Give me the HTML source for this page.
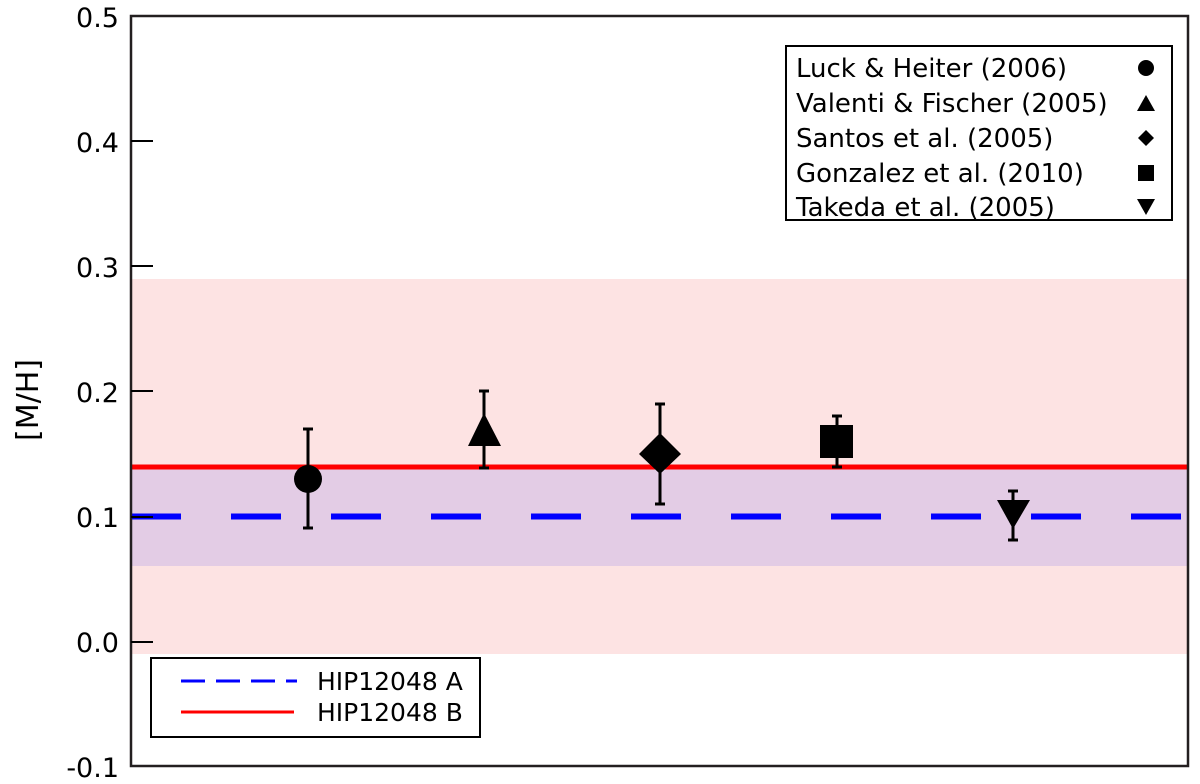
<!DOCTYPE html>
<html><head><meta charset="utf-8"><style>body{margin:0;background:#fff}svg{display:block}text{font-family:"DejaVu Sans","Liberation Sans",sans-serif;fill:#000}</style></head>
<body>
<svg width="1200" height="784" viewBox="0 0 1200 784">
<rect x="131" y="279" width="1057" height="375" fill="#fde3e3"/>
<rect x="131" y="469" width="1057" height="97" fill="#e3cce5"/>
<line x1="131" y1="467" x2="1188" y2="467" stroke="#f00" stroke-width="5"/>
<line x1="131" y1="516.5" x2="1188" y2="516.5" stroke="#00f" stroke-width="6" stroke-dasharray="50 50"/>
<g stroke="#000" stroke-width="3">
<line x1="308" y1="429" x2="308" y2="528"/><line x1="303" y1="429" x2="313" y2="429"/><line x1="303" y1="528" x2="313" y2="528"/>
<line x1="484" y1="391" x2="484" y2="468"/><line x1="479" y1="391" x2="489" y2="391"/><line x1="479" y1="468" x2="489" y2="468"/>
<line x1="660" y1="404" x2="660" y2="504"/><line x1="655" y1="404" x2="665" y2="404"/><line x1="655" y1="504" x2="665" y2="504"/>
<line x1="837" y1="416" x2="837" y2="467"/><line x1="832" y1="416" x2="842" y2="416"/><line x1="832" y1="467" x2="842" y2="467"/>
<line x1="1013" y1="491" x2="1013" y2="540"/><line x1="1008" y1="491" x2="1018" y2="491"/><line x1="1008" y1="540" x2="1018" y2="540"/>
</g>
<circle cx="308" cy="479" r="14"/>
<polygon points="484,413 468,446 501,446"/>
<polygon points="660,433 681,454 660,474 639,454"/>
<rect x="820" y="425" width="33" height="33"/>
<polygon points="997,500 1030,500 1013,529"/>
<rect x="131" y="16" width="1057" height="750" fill="none" stroke="#231f20" stroke-width="2.5"/>
<g stroke="#000" stroke-width="2">
<line x1="131" y1="141" x2="153" y2="141"/><line x1="131" y1="266" x2="153" y2="266"/><line x1="131" y1="391" x2="153" y2="391"/><line x1="131" y1="517" x2="153" y2="517"/><line x1="131" y1="642" x2="153" y2="642"/>
</g>
<g font-size="27" text-anchor="end">
<text x="119" y="27">0.5</text><text x="119" y="152">0.4</text><text x="119" y="277">0.3</text><text x="119" y="402">0.2</text><text x="119" y="527">0.1</text><text x="119" y="652">0.0</text><text x="119" y="777">-0.1</text>
</g>
<text font-size="30" text-anchor="middle" transform="translate(38,400) rotate(-90)">[M/H]</text>
<rect x="786" y="46" width="386" height="174" fill="#fff" stroke="#000" stroke-width="2"/>
<g font-size="26">
<text x="796" y="77">Luck &amp; Heiter (2006)</text>
<text x="796" y="112">Valenti &amp; Fischer (2005)</text>
<text x="796" y="147">Santos et al. (2005)</text>
<text x="796" y="182">Gonzalez et al. (2010)</text>
<text x="796" y="216">Takeda et al. (2005)</text>
</g>
<circle cx="1146" cy="68" r="8"/>
<polygon points="1146,95 1137,111 1155,111"/>
<polygon points="1146,130 1154,138 1146,146 1138,138"/>
<rect x="1138" y="165" width="16" height="16"/>
<polygon points="1137,199 1155,199 1146,215"/>
<rect x="151" y="658" width="329" height="79" fill="#fff" stroke="#000" stroke-width="2"/>
<line x1="181" y1="681" x2="297" y2="681" stroke="#00f" stroke-width="3" stroke-dasharray="24 11"/>
<line x1="181" y1="712" x2="294" y2="712" stroke="#f00" stroke-width="3"/>
<g font-size="25"><text x="317" y="690">HIP12048 A</text><text x="317" y="721">HIP12048 B</text></g>
</svg>
</body></html>
